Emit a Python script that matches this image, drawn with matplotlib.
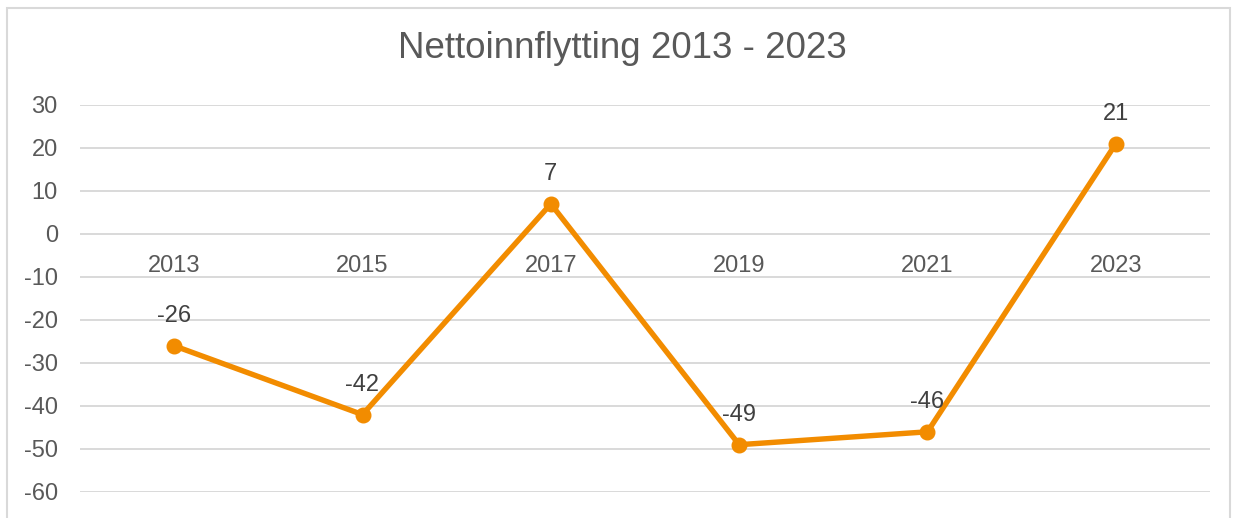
import matplotlib
matplotlib.use("Agg")
import matplotlib.pyplot as plt
from matplotlib.patches import Rectangle

years = ["2013", "2015", "2017", "2019", "2021", "2023"]
values = [-26, -42, 7, -49, -46, 21]
yticks = [30, 20, 10, 0, -10, -20, -30, -40, -50, -60]
title = "Nettoinnflytting 2013 - 2023"

plt.rcParams['font.family'] = ['Liberation Sans', 'DejaVu Sans']

W, H = 1237, 518
fig = plt.figure(figsize=(W / 100, H / 100), dpi=100)
fig.patch.set_facecolor("white")

# outer chart frame
fig.patches.append(Rectangle((7 / W, -0.1), (1230 - 7) / W, (H - 8) / H + 0.1,
                             transform=fig.transFigure, fill=False,
                             edgecolor="#D9D9D9", linewidth=1.5))

ax = fig.add_axes([80 / W, (H - 492) / H, (1210 - 80) / W, (492 - 105) / H])
x = list(range(len(years)))
ax.plot(x, values, color="#F28C00", linewidth=3.9, marker="o", markersize=10.5,
        solid_capstyle="round", zorder=3)

ax.set_xlim(-0.5, len(years) - 0.5)
ax.set_ylim(-60, 30)
ax.set_yticks(yticks)
ax.set_yticklabels([str(t) for t in yticks])
ax.tick_params(axis="y", length=0, pad=16, labelsize=17, labelcolor="#595959")
ax.set_xticks([])
ax.grid(axis="y", color="#D9D9D9", linewidth=1.4)
ax.set_axisbelow(True)
for s in ax.spines.values():
    s.set_visible(False)

px = 72 / 100  # points per pixel

# category labels at the zero line
for xi, yr in zip(x, years):
    ax.annotate(yr, (xi, 0), xytext=(0, -38 * px), textcoords="offset points",
                ha="center", va="baseline", fontsize=17, color="#595959")

# data labels
for xi, v in zip(x, values):
    ax.annotate(str(v), (xi, v), xytext=(0, 24 * px), textcoords="offset points",
                ha="center", va="baseline", fontsize=17, color="#404040")

fig.text(622 / W, (H - 58) / H, title, ha="center", va="baseline",
         fontsize=26.5, color="#595959")

fig.savefig("out.png", dpi=100)
